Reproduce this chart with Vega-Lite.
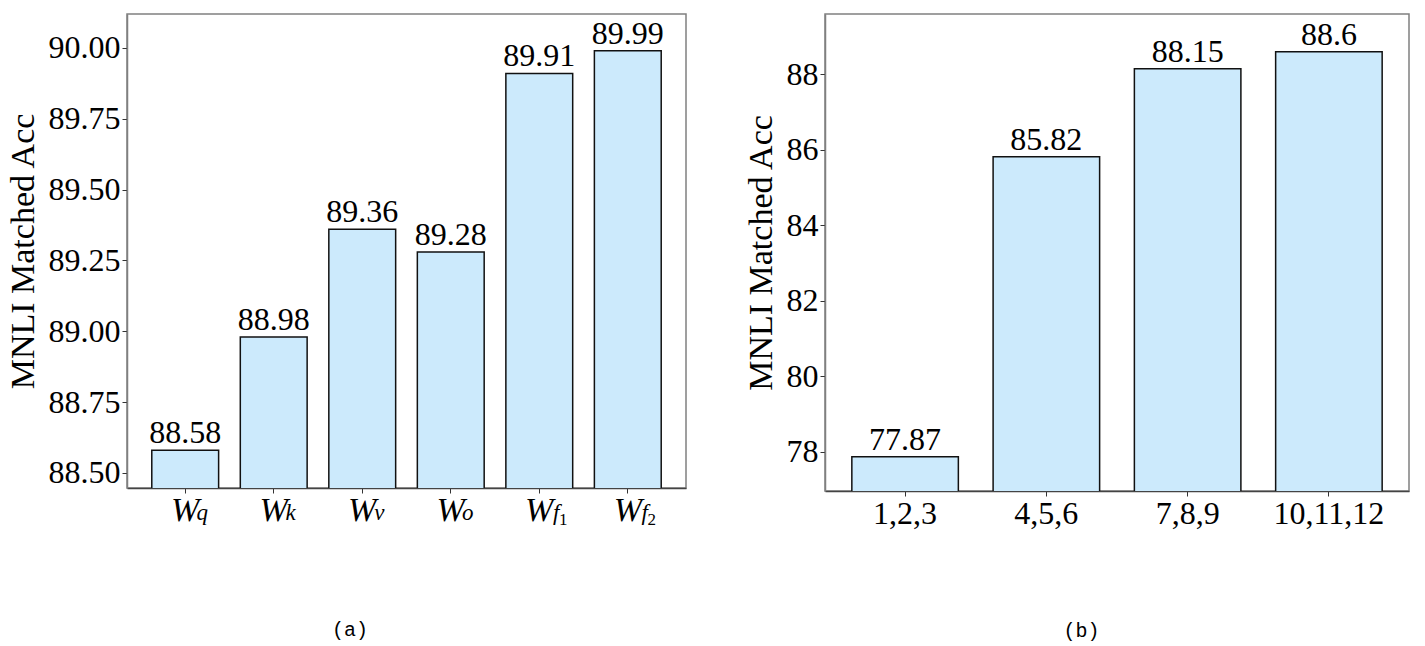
{
  "$schema": "https://vega.github.io/schema/vega-lite/v6.json",
  "background": "white",
  "padding": {"left": 5, "top": 13, "right": 15, "bottom": 5},
  "datasets": {
    "a": [
      {"module": "Wq", "sub": "q", "subsub": null, "acc": 88.58},
      {"module": "Wk", "sub": "k", "subsub": null, "acc": 88.98},
      {"module": "Wv", "sub": "v", "subsub": null, "acc": 89.36},
      {"module": "Wo", "sub": "o", "subsub": null, "acc": 89.28},
      {"module": "Wf1", "sub": "f", "subsub": "1", "acc": 89.91},
      {"module": "Wf2", "sub": "f", "subsub": "2", "acc": 89.99}
    ],
    "b": [
      {"layers": "1,2,3", "acc": 77.87},
      {"layers": "4,5,6", "acc": 85.82},
      {"layers": "7,8,9", "acc": 88.15},
      {"layers": "10,11,12", "acc": 88.6}
    ]
  },
  "config": {
    "font": "Liberation Serif",
    "view": {"stroke": "#808080", "strokeWidth": 1.5},
    "axis": {
      "labelFont": "Liberation Serif",
      "labelFontSize": 32,
      "labelColor": "black",
      "titleFont": "Liberation Serif",
      "titleFontSize": 34,
      "titleFontWeight": "normal",
      "titleColor": "black",
      "grid": false,
      "tickColor": "#333333",
      "tickSize": 5,
      "domainColor": "#808080",
      "domainWidth": 1.5
    },
    "text": {"font": "Liberation Serif", "color": "black"},
    "title": {"font": "Liberation Mono", "fontSize": 20, "fontWeight": "normal", "color": "black"}
  },
  "spacing": 56,
  "hconcat": [
    {
      "width": 559,
      "height": 474,
      "data": {"name": "a"},
      "title": {"text": "(a)", "orient": "bottom", "frame": "bounds", "anchor": "middle", "offset": 92, "dx": 4},
      "encoding": {
        "x": {
          "field": "module",
          "type": "nominal",
          "sort": null,
          "scale": {"paddingInner": 0.245, "paddingOuter": 0.28},
          "axis": {
            "title": null,
            "labelAngle": 0,
            "labelExpr": "'W'",
            "labelFontStyle": "italic",
            "labelFontSize": 34,
            "labelPadding": 0,
            "labelDx": -1,
            "domainColor": "#444444"
          }
        }
      },
      "layer": [
        {
          "mark": {"type": "bar", "fill": "#cceafc", "stroke": "#111111", "strokeWidth": 1.5, "clip": true},
          "encoding": {
            "y": {
              "field": "acc",
              "type": "quantitative",
              "scale": {"domain": [88.447, 90.12], "zero": false, "nice": false},
              "axis": {
                "title": "MNLI Matched Acc",
                "values": [88.5, 88.75, 89.0, 89.25, 89.5, 89.75, 90.0],
                "format": ".2f",
                "titlePadding": 8
              }
            }
          }
        },
        {
          "mark": {"type": "text", "baseline": "alphabetic", "dy": -7, "fontSize": 32},
          "encoding": {
            "y": {"field": "acc", "type": "quantitative"},
            "text": {"field": "acc", "type": "nominal"}
          }
        },
        {
          "mark": {"type": "text", "baseline": "alphabetic", "align": "center", "dx": 17, "dy": 32, "fontSize": 23, "fontStyle": "italic"},
          "encoding": {
            "y": {"datum": 88.447},
            "text": {"field": "sub", "type": "nominal"}
          }
        },
        {
          "transform": [{"filter": "datum.subsub != null"}],
          "mark": {"type": "text", "baseline": "alphabetic", "align": "center", "dx": 24, "dy": 37, "fontSize": 17},
          "encoding": {
            "y": {"datum": 88.447},
            "text": {"field": "subsub", "type": "nominal"}
          }
        }
      ]
    },
    {
      "width": 584,
      "height": 477,
      "data": {"name": "b"},
      "title": {"text": "(b)", "orient": "bottom", "frame": "bounds", "anchor": "middle", "offset": 92, "dx": 5},
      "encoding": {
        "x": {
          "field": "layers",
          "type": "nominal",
          "sort": null,
          "scale": {"paddingInner": 0.246, "paddingOuter": 0.19},
          "axis": {"title": null, "labelAngle": 0, "labelPadding": 2, "domainColor": "#444444"}
        }
      },
      "layer": [
        {
          "mark": {"type": "bar", "fill": "#cceafc", "stroke": "#111111", "strokeWidth": 1.5, "clip": true},
          "encoding": {
            "y": {
              "field": "acc",
              "type": "quantitative",
              "scale": {"domain": [76.96, 89.6], "zero": false, "nice": false},
              "axis": {
                "title": "MNLI Matched Acc",
                "values": [78, 80, 82, 84, 86, 88],
                "titlePadding": 8
              }
            }
          }
        },
        {
          "mark": {"type": "text", "baseline": "alphabetic", "dy": -7, "fontSize": 32},
          "encoding": {
            "y": {"field": "acc", "type": "quantitative"},
            "text": {"field": "acc", "type": "nominal"}
          }
        }
      ]
    }
  ]
}
